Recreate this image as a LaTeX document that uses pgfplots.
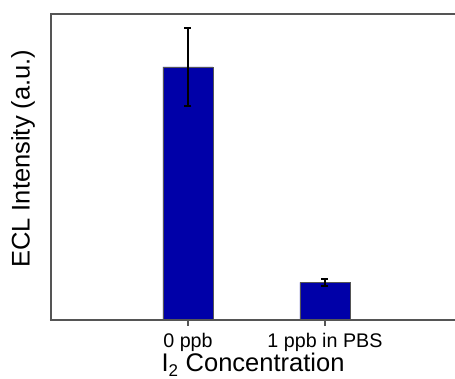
\documentclass[border=0pt]{standalone}
\usepackage{pgfplots}
\pgfplotsset{compat=1.18}
\usepackage{fontspec}
\setmainfont{Liberation Sans}
\definecolor{barblue}{RGB}{0,0,168}
\definecolor{axisgray}{RGB}{85,85,85}
\begin{document}
\begin{tikzpicture}
\useasboundingbox (-51pt,-59pt) rectangle (404pt,320pt);
\begin{axis}[
  scale only axis,
  width=404pt, height=306pt,
  xmin=-1, xmax=1.949, ymin=0, ymax=306,
  clip=false,
  axis line style={draw=none},
  xtick={0,1},
  xticklabels={0 ppb, 1 ppb in PBS},
  ytick=\empty,
  xtick pos=bottom,
  tick align=outside,
  major tick length=6pt,
  tick style={axisgray, line width=1.2pt},
  xticklabel style={font=\fontsize{19.7}{22}\selectfont, yshift=-4pt},
  xlabel={I\raisebox{-0.35ex}{\fontsize{17}{17}\selectfont 2}\hspace{0.3em}Concentration},
  ylabel={ECL Intensity (a.u.)},
  xlabel style={font=\fontsize{25.5}{28}\selectfont, at={(axis description cs:0.5,0)}, anchor=base, yshift=-52pt},
  ylabel style={font=\fontsize{25.5}{28}\selectfont, at={(axis description cs:0,0.527)}, anchor=center, yshift=28pt},
]
% mean signal with standard deviation
\addplot[ybar, bar width=50pt, fill=barblue, draw=axisgray, line width=0.6pt,
  error bars/.cd, y dir=both, y explicit,
  error bar style={black, line width=1.3pt},
  error mark options={rotate=90, mark size=3.5pt, black, line width=1.3pt}]
  coordinates {(0,253) +- (0,39) (1,37.5) +- (0,3.5)};
% frame: left, top and bottom only
\draw[axisgray, line width=1.3pt] (rel axis cs:1.02,1) -- (rel axis cs:0,1) -- (rel axis cs:0,0);
\draw[axisgray, line width=1.3pt] (rel axis cs:-0.003,0) -- (rel axis cs:1.02,0);
\end{axis}
\end{tikzpicture}
\end{document}
